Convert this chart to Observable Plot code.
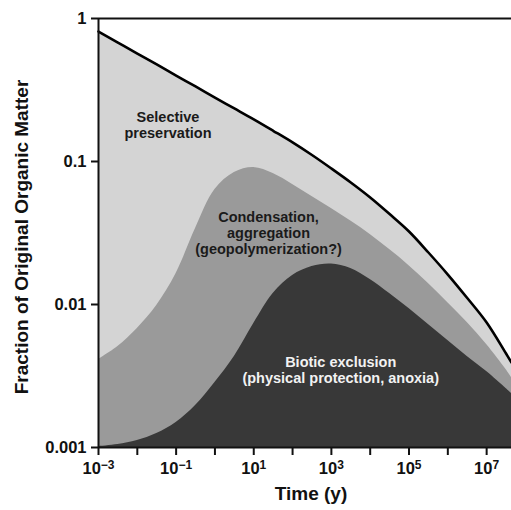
<!DOCTYPE html>
<html>
<head>
<meta charset="utf-8">
<script src="https://cdn.jsdelivr.net/npm/d3@7"></script>
<script src="https://cdn.jsdelivr.net/npm/@observablehq/plot@0.6"></script>
<style>
  html, body { margin: 0; padding: 0; background: #fff; }
  #chart { width: 511px; height: 510px; }
</style>
</head>
<body>
<div id="chart"></div>
<script>
// Time (years), half-decade steps
const times = [0.001, 0.00316, 0.01, 0.0316, 0.1, 0.316, 1, 3.16, 10, 31.6, 100, 316, 1000, 3160, 1e4, 3.16e4, 1e5, 3.16e5, 1e6, 3.16e6, 1e7, 3.16e7, 4.37e7];
// Fraction of original organic matter: upper envelope (selective preservation)
const totalFraction = [0.811, 0.679, 0.569, 0.477, 0.399, 0.335, 0.280, 0.235, 0.197, 0.164, 0.136, 0.111, 0.0893, 0.0713, 0.0560, 0.0429, 0.0324, 0.0231, 0.0162, 0.0111, 0.00748, 0.00454, 0.00393];
// Condensation, aggregation upper boundary
const condensationFraction = [0.00412, 0.00508, 0.00680, 0.00984, 0.01647, 0.0340, 0.0637, 0.0838, 0.0908, 0.0824, 0.0691, 0.0569, 0.0469, 0.0384, 0.0309, 0.0242, 0.0187, 0.0140, 0.0103, 0.00748, 0.00525, 0.00351, 0.00309];
// Biotic exclusion upper boundary
const bioticFraction = [0.001016, 0.00105, 0.001119, 0.001253, 0.001496, 0.001966, 0.002848, 0.004329, 0.007363, 0.01194, 0.01595, 0.01843, 0.0192, 0.01785, 0.01496, 0.01194, 0.00938, 0.00725, 0.0056, 0.00433, 0.0034, 0.00259, 0.00239];

const xTicks = [1e-3, 1e-2, 1e-1, 1, 10, 100, 1e3, 1e4, 1e5, 1e6, 1e7];
const xLabeledExponents = [-3, -1, 1, 3, 5, 7];
const yTicks = [1, 0.1, 0.01, 0.001];
const yTickLabels = ["1", "0.1", "0.01", "0.001"];

const regionLabels = [
  {text: "Selective\npreservation", t: 0.0617, f: 0.179, color: "#1a1a1a"},
  {text: "Condensation,\naggregation\n(geopolymerization?)", t: 24, f: 0.0319, color: "#1a1a1a"},
  {text: "Biotic exclusion\n(physical protection, anoxia)", t: 1740, f: 0.00347, color: "#f2f2f2"}
];

const data = times.map((t, i) => ({t, top: totalFraction[i], mid: condensationFraction[i], low: bioticFraction[i]}));

const font = "'Liberation Sans', Arial, Helvetica, sans-serif";

const chart = Plot.plot({
  width: 511,
  height: 510,
  marginLeft: 98,
  marginRight: 0,
  marginTop: 18,
  marginBottom: 63,
  style: {fontFamily: font, background: "#fff", overflow: "visible"},
  x: {type: "log", domain: [1e-3, 4.37e7]},
  y: {type: "log", domain: [1e-3, 1]},
  marks: [
    Plot.areaY(data, {x: "t", y1: 0.001, y2: "top", fill: "#d4d4d4", curve: "catmull-rom"}),
    Plot.areaY(data, {x: "t", y1: 0.001, y2: "mid", fill: "#9a9a9a", curve: "catmull-rom"}),
    Plot.areaY(data, {x: "t", y1: 0.001, y2: "low", fill: "#383838", curve: "catmull-rom"}),
    Plot.line(data, {x: "t", y: "top", stroke: "#000", strokeWidth: 2.6, curve: "catmull-rom"}),
    Plot.ruleY([1e-3, 1], {stroke: "#111", strokeWidth: 2}),
    Plot.ruleX([1e-3], {stroke: "#111", strokeWidth: 2}),
    Plot.axisX({
      ticks: xTicks,
      tickSize: 8,
      tickPadding: 7,
      strokeWidth: 2,
      stroke: "#111",
      fontSize: 16.5,
      fontWeight: "bold",
      fill: "#111",
      label: null,
      tickFormat: d => {
        const e = Math.round(Math.log10(d));
        return xLabeledExponents.includes(e) ? "10^" + e : "";
      }
    }),
    Plot.axisY({
      ticks: yTicks,
      tickSize: 7,
      tickPadding: 5,
      strokeWidth: 2,
      stroke: "#111",
      fontSize: 16.5,
      fontWeight: "bold",
      fill: "#111",
      label: null,
      tickFormat: d => yTickLabels[yTicks.indexOf(d)]
    }),
    Plot.text(regionLabels, {
      x: "t", y: "f", text: "text", fill: "color",
      fontSize: 14.5, fontWeight: "bold", lineHeight: 1.1, textAnchor: "middle"
    }),
    Plot.text(["Fraction of Original Organic Matter"], {
      frameAnchor: "left", dx: -77, dy: 4, rotate: -90, textAnchor: "middle",
      fontSize: 19, fontWeight: "bold", fill: "#111"
    }),
    Plot.text(["Time (y)"], {
      frameAnchor: "bottom", dx: 6, dy: 52, textAnchor: "middle",
      fontSize: 19, fontWeight: "bold", fill: "#111"
    })
  ]
});

// turn "10^e" tick labels into superscripts
d3.select(chart).selectAll("text").each(function() {
  const el = d3.select(this);
  const s = el.text();
  const m = /^10\^(-?\d+)$/.exec(s);
  if (m) {
    el.text("");
    el.append("tspan").text("10");
    el.append("tspan").attr("dy", "-0.42em").attr("font-size", "12px")
      .text(m[1].replace("-", "\u2212"));
  }
});

document.getElementById("chart").appendChild(chart);
</script>
</body>
</html>
